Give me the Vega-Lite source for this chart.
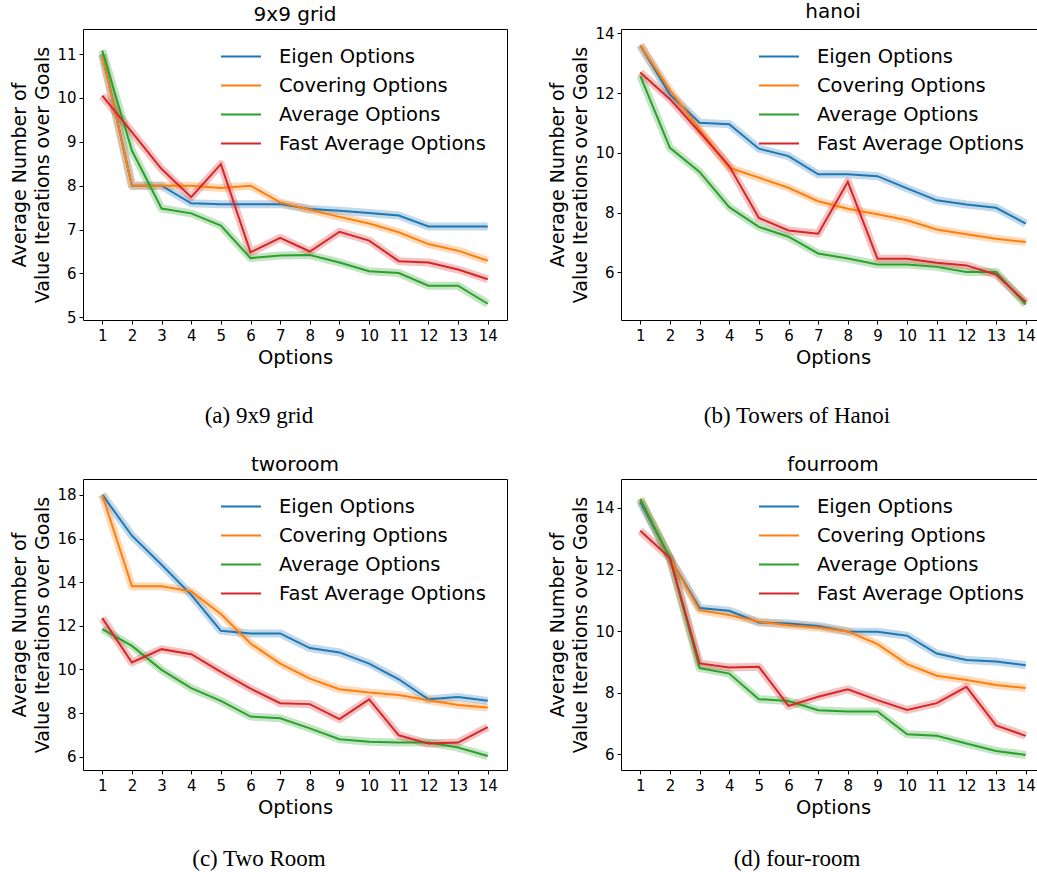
{
  "$schema": "https://vega.github.io/schema/vega-lite/v6.json",
  "padding": {"left": 10, "top": 1, "right": 0, "bottom": 0},
  "background": "white",
  "columns": 2,
  "spacing": {"column": 40, "row": 26},
  "resolve": {"scale": {"color": "independent"}, "legend": {"color": "independent"}},
  "datasets": {
    "a": [
      {"s": "Eigen Options", "x": 1, "y": 11.0}, {"s": "Eigen Options", "x": 2, "y": 8.0}, {"s": "Eigen Options", "x": 3, "y": 8.0}, {"s": "Eigen Options", "x": 4, "y": 7.6}, {"s": "Eigen Options", "x": 5, "y": 7.58}, {"s": "Eigen Options", "x": 6, "y": 7.58}, {"s": "Eigen Options", "x": 7, "y": 7.58}, {"s": "Eigen Options", "x": 8, "y": 7.47}, {"s": "Eigen Options", "x": 9, "y": 7.43}, {"s": "Eigen Options", "x": 10, "y": 7.38}, {"s": "Eigen Options", "x": 11, "y": 7.32}, {"s": "Eigen Options", "x": 12, "y": 7.07}, {"s": "Eigen Options", "x": 13, "y": 7.07}, {"s": "Eigen Options", "x": 14, "y": 7.07},
      {"s": "Covering Options", "x": 1, "y": 10.98}, {"s": "Covering Options", "x": 2, "y": 8.0}, {"s": "Covering Options", "x": 3, "y": 8.0}, {"s": "Covering Options", "x": 4, "y": 8.0}, {"s": "Covering Options", "x": 5, "y": 7.95}, {"s": "Covering Options", "x": 6, "y": 8.0}, {"s": "Covering Options", "x": 7, "y": 7.62}, {"s": "Covering Options", "x": 8, "y": 7.45}, {"s": "Covering Options", "x": 9, "y": 7.29}, {"s": "Covering Options", "x": 10, "y": 7.14}, {"s": "Covering Options", "x": 11, "y": 6.94}, {"s": "Covering Options", "x": 12, "y": 6.67}, {"s": "Covering Options", "x": 13, "y": 6.52}, {"s": "Covering Options", "x": 14, "y": 6.29},
      {"s": "Average Options", "x": 1, "y": 11.08}, {"s": "Average Options", "x": 2, "y": 8.8}, {"s": "Average Options", "x": 3, "y": 7.48}, {"s": "Average Options", "x": 4, "y": 7.37}, {"s": "Average Options", "x": 5, "y": 7.09}, {"s": "Average Options", "x": 6, "y": 6.35}, {"s": "Average Options", "x": 7, "y": 6.41}, {"s": "Average Options", "x": 8, "y": 6.42}, {"s": "Average Options", "x": 9, "y": 6.25}, {"s": "Average Options", "x": 10, "y": 6.05}, {"s": "Average Options", "x": 11, "y": 6.01}, {"s": "Average Options", "x": 12, "y": 5.72}, {"s": "Average Options", "x": 13, "y": 5.72}, {"s": "Average Options", "x": 14, "y": 5.31},
      {"s": "Fast Average Options", "x": 1, "y": 10.05}, {"s": "Fast Average Options", "x": 2, "y": 9.22}, {"s": "Fast Average Options", "x": 3, "y": 8.38}, {"s": "Fast Average Options", "x": 4, "y": 7.74}, {"s": "Fast Average Options", "x": 5, "y": 8.49}, {"s": "Fast Average Options", "x": 6, "y": 6.48}, {"s": "Fast Average Options", "x": 7, "y": 6.81}, {"s": "Fast Average Options", "x": 8, "y": 6.5}, {"s": "Fast Average Options", "x": 9, "y": 6.95}, {"s": "Fast Average Options", "x": 10, "y": 6.75}, {"s": "Fast Average Options", "x": 11, "y": 6.28}, {"s": "Fast Average Options", "x": 12, "y": 6.25}, {"s": "Fast Average Options", "x": 13, "y": 6.09}, {"s": "Fast Average Options", "x": 14, "y": 5.87}
    ],
    "b": [
      {"s": "Eigen Options", "x": 1, "y": 13.6}, {"s": "Eigen Options", "x": 2, "y": 11.96}, {"s": "Eigen Options", "x": 3, "y": 11.01}, {"s": "Eigen Options", "x": 4, "y": 10.96}, {"s": "Eigen Options", "x": 5, "y": 10.14}, {"s": "Eigen Options", "x": 6, "y": 9.89}, {"s": "Eigen Options", "x": 7, "y": 9.28}, {"s": "Eigen Options", "x": 8, "y": 9.28}, {"s": "Eigen Options", "x": 9, "y": 9.22}, {"s": "Eigen Options", "x": 10, "y": 8.81}, {"s": "Eigen Options", "x": 11, "y": 8.41}, {"s": "Eigen Options", "x": 12, "y": 8.27}, {"s": "Eigen Options", "x": 13, "y": 8.16}, {"s": "Eigen Options", "x": 14, "y": 7.63},
      {"s": "Covering Options", "x": 1, "y": 13.61}, {"s": "Covering Options", "x": 2, "y": 12.1}, {"s": "Covering Options", "x": 3, "y": 10.79}, {"s": "Covering Options", "x": 4, "y": 9.5}, {"s": "Covering Options", "x": 5, "y": 9.17}, {"s": "Covering Options", "x": 6, "y": 8.83}, {"s": "Covering Options", "x": 7, "y": 8.38}, {"s": "Covering Options", "x": 8, "y": 8.13}, {"s": "Covering Options", "x": 9, "y": 7.94}, {"s": "Covering Options", "x": 10, "y": 7.74}, {"s": "Covering Options", "x": 11, "y": 7.43}, {"s": "Covering Options", "x": 12, "y": 7.27}, {"s": "Covering Options", "x": 13, "y": 7.12}, {"s": "Covering Options", "x": 14, "y": 7.01},
      {"s": "Average Options", "x": 1, "y": 12.58}, {"s": "Average Options", "x": 2, "y": 10.17}, {"s": "Average Options", "x": 3, "y": 9.36}, {"s": "Average Options", "x": 4, "y": 8.18}, {"s": "Average Options", "x": 5, "y": 7.52}, {"s": "Average Options", "x": 6, "y": 7.19}, {"s": "Average Options", "x": 7, "y": 6.63}, {"s": "Average Options", "x": 8, "y": 6.46}, {"s": "Average Options", "x": 9, "y": 6.26}, {"s": "Average Options", "x": 10, "y": 6.26}, {"s": "Average Options", "x": 11, "y": 6.18}, {"s": "Average Options", "x": 12, "y": 6.01}, {"s": "Average Options", "x": 13, "y": 6.01}, {"s": "Average Options", "x": 14, "y": 4.92},
      {"s": "Fast Average Options", "x": 1, "y": 12.69}, {"s": "Fast Average Options", "x": 2, "y": 11.8}, {"s": "Fast Average Options", "x": 3, "y": 10.7}, {"s": "Fast Average Options", "x": 4, "y": 9.56}, {"s": "Fast Average Options", "x": 5, "y": 7.82}, {"s": "Fast Average Options", "x": 6, "y": 7.4}, {"s": "Fast Average Options", "x": 7, "y": 7.29}, {"s": "Fast Average Options", "x": 8, "y": 9.03}, {"s": "Fast Average Options", "x": 9, "y": 6.45}, {"s": "Fast Average Options", "x": 10, "y": 6.45}, {"s": "Fast Average Options", "x": 11, "y": 6.32}, {"s": "Fast Average Options", "x": 12, "y": 6.23}, {"s": "Fast Average Options", "x": 13, "y": 5.92}, {"s": "Fast Average Options", "x": 14, "y": 5.0}
    ],
    "c": [
      {"s": "Eigen Options", "x": 1, "y": 18.01}, {"s": "Eigen Options", "x": 2, "y": 16.13}, {"s": "Eigen Options", "x": 3, "y": 14.8}, {"s": "Eigen Options", "x": 4, "y": 13.42}, {"s": "Eigen Options", "x": 5, "y": 11.77}, {"s": "Eigen Options", "x": 6, "y": 11.65}, {"s": "Eigen Options", "x": 7, "y": 11.65}, {"s": "Eigen Options", "x": 8, "y": 10.98}, {"s": "Eigen Options", "x": 9, "y": 10.78}, {"s": "Eigen Options", "x": 10, "y": 10.27}, {"s": "Eigen Options", "x": 11, "y": 9.55}, {"s": "Eigen Options", "x": 12, "y": 8.63}, {"s": "Eigen Options", "x": 13, "y": 8.74}, {"s": "Eigen Options", "x": 14, "y": 8.56},
      {"s": "Covering Options", "x": 1, "y": 18.0}, {"s": "Covering Options", "x": 2, "y": 13.81}, {"s": "Covering Options", "x": 3, "y": 13.81}, {"s": "Covering Options", "x": 4, "y": 13.58}, {"s": "Covering Options", "x": 5, "y": 12.54}, {"s": "Covering Options", "x": 6, "y": 11.19}, {"s": "Covering Options", "x": 7, "y": 10.27}, {"s": "Covering Options", "x": 8, "y": 9.58}, {"s": "Covering Options", "x": 9, "y": 9.09}, {"s": "Covering Options", "x": 10, "y": 8.94}, {"s": "Covering Options", "x": 11, "y": 8.83}, {"s": "Covering Options", "x": 12, "y": 8.59}, {"s": "Covering Options", "x": 13, "y": 8.37}, {"s": "Covering Options", "x": 14, "y": 8.25},
      {"s": "Average Options", "x": 1, "y": 11.85}, {"s": "Average Options", "x": 2, "y": 11.08}, {"s": "Average Options", "x": 3, "y": 9.98}, {"s": "Average Options", "x": 4, "y": 9.14}, {"s": "Average Options", "x": 5, "y": 8.56}, {"s": "Average Options", "x": 6, "y": 7.84}, {"s": "Average Options", "x": 7, "y": 7.76}, {"s": "Average Options", "x": 8, "y": 7.3}, {"s": "Average Options", "x": 9, "y": 6.8}, {"s": "Average Options", "x": 10, "y": 6.69}, {"s": "Average Options", "x": 11, "y": 6.65}, {"s": "Average Options", "x": 12, "y": 6.65}, {"s": "Average Options", "x": 13, "y": 6.42}, {"s": "Average Options", "x": 14, "y": 6.03},
      {"s": "Fast Average Options", "x": 1, "y": 12.35}, {"s": "Fast Average Options", "x": 2, "y": 10.32}, {"s": "Fast Average Options", "x": 3, "y": 10.93}, {"s": "Fast Average Options", "x": 4, "y": 10.7}, {"s": "Fast Average Options", "x": 5, "y": 9.89}, {"s": "Fast Average Options", "x": 6, "y": 9.12}, {"s": "Fast Average Options", "x": 7, "y": 8.45}, {"s": "Fast Average Options", "x": 8, "y": 8.41}, {"s": "Fast Average Options", "x": 9, "y": 7.72}, {"s": "Fast Average Options", "x": 10, "y": 8.63}, {"s": "Fast Average Options", "x": 11, "y": 6.98}, {"s": "Fast Average Options", "x": 12, "y": 6.6}, {"s": "Fast Average Options", "x": 13, "y": 6.65}, {"s": "Fast Average Options", "x": 14, "y": 7.36}
    ],
    "d": [
      {"s": "Eigen Options", "x": 1, "y": 14.2}, {"s": "Eigen Options", "x": 2, "y": 12.37}, {"s": "Eigen Options", "x": 3, "y": 10.75}, {"s": "Eigen Options", "x": 4, "y": 10.66}, {"s": "Eigen Options", "x": 5, "y": 10.28}, {"s": "Eigen Options", "x": 6, "y": 10.25}, {"s": "Eigen Options", "x": 7, "y": 10.17}, {"s": "Eigen Options", "x": 8, "y": 9.99}, {"s": "Eigen Options", "x": 9, "y": 9.98}, {"s": "Eigen Options", "x": 10, "y": 9.85}, {"s": "Eigen Options", "x": 11, "y": 9.27}, {"s": "Eigen Options", "x": 12, "y": 9.06}, {"s": "Eigen Options", "x": 13, "y": 9.01}, {"s": "Eigen Options", "x": 14, "y": 8.89},
      {"s": "Covering Options", "x": 1, "y": 14.29}, {"s": "Covering Options", "x": 2, "y": 12.37}, {"s": "Covering Options", "x": 3, "y": 10.68}, {"s": "Covering Options", "x": 4, "y": 10.52}, {"s": "Covering Options", "x": 5, "y": 10.31}, {"s": "Covering Options", "x": 6, "y": 10.19}, {"s": "Covering Options", "x": 7, "y": 10.12}, {"s": "Covering Options", "x": 8, "y": 9.99}, {"s": "Covering Options", "x": 9, "y": 9.58}, {"s": "Covering Options", "x": 10, "y": 8.93}, {"s": "Covering Options", "x": 11, "y": 8.55}, {"s": "Covering Options", "x": 12, "y": 8.41}, {"s": "Covering Options", "x": 13, "y": 8.25}, {"s": "Covering Options", "x": 14, "y": 8.15},
      {"s": "Average Options", "x": 1, "y": 14.29}, {"s": "Average Options", "x": 2, "y": 12.37}, {"s": "Average Options", "x": 3, "y": 8.8}, {"s": "Average Options", "x": 4, "y": 8.62}, {"s": "Average Options", "x": 5, "y": 7.79}, {"s": "Average Options", "x": 6, "y": 7.73}, {"s": "Average Options", "x": 7, "y": 7.43}, {"s": "Average Options", "x": 8, "y": 7.39}, {"s": "Average Options", "x": 9, "y": 7.39}, {"s": "Average Options", "x": 10, "y": 6.65}, {"s": "Average Options", "x": 11, "y": 6.6}, {"s": "Average Options", "x": 12, "y": 6.35}, {"s": "Average Options", "x": 13, "y": 6.11}, {"s": "Average Options", "x": 14, "y": 5.98},
      {"s": "Fast Average Options", "x": 1, "y": 13.26}, {"s": "Fast Average Options", "x": 2, "y": 12.37}, {"s": "Fast Average Options", "x": 3, "y": 8.95}, {"s": "Fast Average Options", "x": 4, "y": 8.82}, {"s": "Fast Average Options", "x": 5, "y": 8.84}, {"s": "Fast Average Options", "x": 6, "y": 7.57}, {"s": "Fast Average Options", "x": 7, "y": 7.87}, {"s": "Fast Average Options", "x": 8, "y": 8.11}, {"s": "Fast Average Options", "x": 9, "y": 7.76}, {"s": "Fast Average Options", "x": 10, "y": 7.44}, {"s": "Fast Average Options", "x": 11, "y": 7.66}, {"s": "Fast Average Options", "x": 12, "y": 8.19}, {"s": "Fast Average Options", "x": 13, "y": 6.94}, {"s": "Fast Average Options", "x": 14, "y": 6.6}
    ]
  },
  "concat": [
    {
      "title": {"text": "(a) 9x9 grid", "orient": "bottom", "anchor": "middle", "font": "Liberation Serif", "fontSize": 23, "offset": 38},
      "resolve": {"scale": {"color": "independent"}, "legend": {"color": "independent"}},
      "vconcat": [{
        "width": 424, "height": 291,
        "title": {"text": "9x9 grid"},
        "data": {"name": "a"},
        "encoding": {
          "x": {"field": "x", "type": "quantitative", "scale": {"domain": [0.35, 14.65], "nice": false, "zero": false}, "axis": {"values": [1,2,3,4,5,6,7,8,9,10,11,12,13,14], "title": "Options"}},
          "y": {"field": "y", "type": "quantitative", "scale": {"domain": [4.94, 11.57], "nice": false, "zero": false}, "axis": {"values": [5,6,7,8,9,10,11], "title": ["Average Number of", "Value Iterations over Goals"]}},
          "color": {"field": "s", "type": "nominal", "scale": {"domain": ["Eigen Options", "Covering Options", "Average Options", "Fast Average Options"], "range": ["#1f77b4", "#ff7f0e", "#2ca02c", "#d62728"]}, "legend": {"title": null}}
        },
        "layer": [
          {"mark": {"type": "line", "strokeWidth": 8, "opacity": 0.28, "strokeJoin": "round"}},
          {"mark": {"type": "line", "strokeWidth": 2}}
        ]
      }]
    },
    {
      "title": {"text": "(b) Towers of Hanoi", "orient": "bottom", "anchor": "middle", "font": "Liberation Serif", "fontSize": 23, "offset": 38},
      "resolve": {"scale": {"color": "independent"}, "legend": {"color": "independent"}},
      "vconcat": [{
        "width": 424, "height": 291,
        "title": {"text": "hanoi"},
        "data": {"name": "b"},
        "encoding": {
          "x": {"field": "x", "type": "quantitative", "scale": {"domain": [0.35, 14.65], "nice": false, "zero": false}, "axis": {"values": [1,2,3,4,5,6,7,8,9,10,11,12,13,14], "title": "Options"}},
          "y": {"field": "y", "type": "quantitative", "scale": {"domain": [4.4, 14.15], "nice": false, "zero": false}, "axis": {"values": [6,8,10,12,14], "title": ["Average Number of", "Value Iterations over Goals"]}},
          "color": {"field": "s", "type": "nominal", "scale": {"domain": ["Eigen Options", "Covering Options", "Average Options", "Fast Average Options"], "range": ["#1f77b4", "#ff7f0e", "#2ca02c", "#d62728"]}, "legend": {"title": null}}
        },
        "layer": [
          {"mark": {"type": "line", "strokeWidth": 8, "opacity": 0.28, "strokeJoin": "round"}},
          {"mark": {"type": "line", "strokeWidth": 2}}
        ]
      }]
    },
    {
      "title": {"text": "(c) Two Room", "orient": "bottom", "anchor": "middle", "font": "Liberation Serif", "fontSize": 23, "offset": 31},
      "resolve": {"scale": {"color": "independent"}, "legend": {"color": "independent"}},
      "vconcat": [{
        "width": 424, "height": 291,
        "title": {"text": "tworoom"},
        "data": {"name": "c"},
        "encoding": {
          "x": {"field": "x", "type": "quantitative", "scale": {"domain": [0.35, 14.65], "nice": false, "zero": false}, "axis": {"values": [1,2,3,4,5,6,7,8,9,10,11,12,13,14], "title": "Options"}},
          "y": {"field": "y", "type": "quantitative", "scale": {"domain": [5.39, 18.73], "nice": false, "zero": false}, "axis": {"values": [6,8,10,12,14,16,18], "title": ["Average Number of", "Value Iterations over Goals"]}},
          "color": {"field": "s", "type": "nominal", "scale": {"domain": ["Eigen Options", "Covering Options", "Average Options", "Fast Average Options"], "range": ["#1f77b4", "#ff7f0e", "#2ca02c", "#d62728"]}, "legend": {"title": null}}
        },
        "layer": [
          {"mark": {"type": "line", "strokeWidth": 8, "opacity": 0.28, "strokeJoin": "round"}},
          {"mark": {"type": "line", "strokeWidth": 2}}
        ]
      }]
    },
    {
      "title": {"text": "(d) four-room", "orient": "bottom", "anchor": "middle", "font": "Liberation Serif", "fontSize": 23, "offset": 31},
      "resolve": {"scale": {"color": "independent"}, "legend": {"color": "independent"}},
      "vconcat": [{
        "width": 424, "height": 291,
        "title": {"text": "fourroom"},
        "data": {"name": "d"},
        "encoding": {
          "x": {"field": "x", "type": "quantitative", "scale": {"domain": [0.35, 14.65], "nice": false, "zero": false}, "axis": {"values": [1,2,3,4,5,6,7,8,9,10,11,12,13,14], "title": "Options"}},
          "y": {"field": "y", "type": "quantitative", "scale": {"domain": [5.49, 14.94], "nice": false, "zero": false}, "axis": {"values": [6,8,10,12,14], "title": ["Average Number of", "Value Iterations over Goals"]}},
          "color": {"field": "s", "type": "nominal", "scale": {"domain": ["Eigen Options", "Covering Options", "Average Options", "Fast Average Options"], "range": ["#1f77b4", "#ff7f0e", "#2ca02c", "#d62728"]}, "legend": {"title": null}}
        },
        "layer": [
          {"mark": {"type": "line", "strokeWidth": 8, "opacity": 0.28, "strokeJoin": "round"}},
          {"mark": {"type": "line", "strokeWidth": 2}}
        ]
      }]
    }
  ],
  "config": {
    "font": "DejaVu Sans",
    "view": {"stroke": "#000", "strokeWidth": 1},
    "axis": {"domain": false, "grid": false, "ticks": true, "tickColor": "#000", "tickSize": 4, "labelColor": "#000", "labelFont": "DejaVu Sans", "labelFontSize": 15, "labelPadding": 3, "titleFont": "DejaVu Sans", "titleFontSize": 19.5, "titleFontWeight": "normal", "titleColor": "#000", "titlePadding": 4},
    "axisX": {"labelPadding": 4, "titlePadding": 5},
    "axisY": {"titleLineHeight": 23, "titleFontSize": 19},
    "title": {"font": "DejaVu Sans", "fontSize": 20, "fontWeight": "normal", "color": "#000", "offset": 4},
    "legend": {"orient": "none", "legendX": 137, "legendY": 13, "padding": 0, "symbolType": "stroke", "symbolSize": 1600, "symbolStrokeWidth": 2, "symbolOpacity": 1, "labelFont": "DejaVu Sans", "labelFontSize": 19.5, "labelColor": "#000", "labelOffset": 17, "labelLimit": 400, "rowPadding": 0, "clipHeight": 29}
  }
}
